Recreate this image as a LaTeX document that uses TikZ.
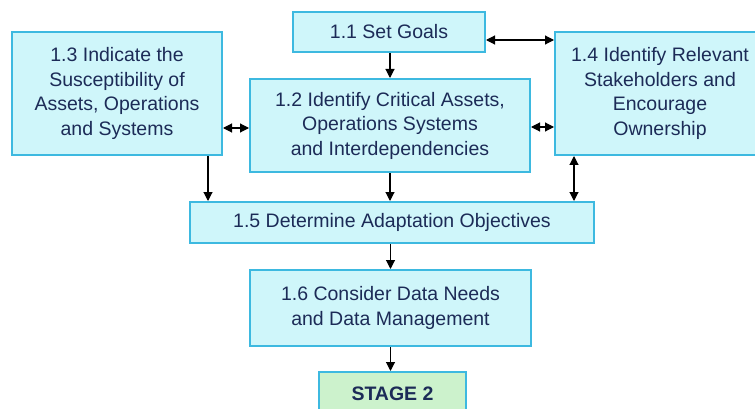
\documentclass[tikz,border=0pt]{standalone}
\usepackage{fontspec}
\setmainfont{Liberation Sans}
\usetikzlibrary{arrows.meta}
\definecolor{boxfill}{HTML}{CFF6FA}
\definecolor{boxline}{HTML}{3DB9E0}
\definecolor{stagefill}{HTML}{CCF2CC}
\definecolor{txt}{HTML}{1C2B57}
\tikzset{
  stepbox/.style={draw=boxline, fill=boxfill, line width=2pt, rectangle, align=center,
    text=txt, inner sep=0pt, font=\fontsize{19.5}{24.5}\selectfont},
  stagebox/.style={stepbox, fill=stagefill, font=\fontsize{19.5}{24.5}\selectfont\bfseries},
  arr/.style={-{Triangle[length=9pt,width=9pt]}, line width=1.1pt, black},
  darr/.style={{Triangle[length=9pt,width=9pt]}-{Triangle[length=9pt,width=9pt]}, line width=1.1pt, black}
}
\begin{document}
\begin{tikzpicture}[x=1pt,y=-1pt]
\useasboundingbox (0,0) rectangle (755,409);
\clip (0,0) rectangle (755,409);
\fill[white] (0,0) rectangle (755,409);
\node[stepbox, minimum width=192pt, minimum height=40pt] (b11) at (389,32) {1.1 Set Goals};
\node[stepbox, minimum width=210pt, minimum height=123pt] (b13) at (117,93.5) {1.3 Indicate the\\Susceptibility of\\Assets, Operations\\and Systems};
\node[stepbox, minimum width=280pt, minimum height=93pt] (b12) at (390,125.5) {1.2 Identify Critical Assets,\\Operations Systems\\and Interdependencies};
\node[stepbox, minimum width=210pt, minimum height=123pt] (b14) at (660,93.5) {1.4 Identify Relevant\\Stakeholders and\\Encourage\\Ownership};
\node[stepbox, minimum width=404pt, minimum height=41pt] (b15) at (392,222.5) {1.5 Determine Adaptation Objectives};
\node[stepbox, minimum width=281pt, minimum height=76pt] (b16) at (390.5,308) {1.6 Consider Data Needs\\and Data Management};
\node[stagebox, minimum width=147pt, minimum height=44pt] (bs2) at (392.5,394) {STAGE 2};

\coordinate (c0) at ([yshift=-8pt]b11.east);
\coordinate (c1) at ([yshift=-2.5pt]b12.west);
\coordinate (c2) at ([yshift=-1.5pt]b12.east);
\coordinate (c3) at ([xshift=-15pt]b13.south east);
\coordinate (c4) at ([xshift=20pt]b14.south west);

\draw[arr] (b12.north |- b11.south) -- (b12.north);
\draw[darr] (c0) -- (c0 -| b14.west);
\draw[darr] (c1 -| b13.east) -- (c1);
\draw[darr] (c2) -- (c2 -| b14.west);
\draw[arr] (c3) -- (c3 |- b15.north);
\draw[arr] (b12.south) -- (b12.south |- b15.north);
\draw[darr] (c4) -- (c4 |- b15.north);
\draw[arr] (b16.north |- b15.south) -- (b16.north);
\draw[arr] (b16.south) -- (b16.south |- bs2.north);
\end{tikzpicture}
\end{document}
